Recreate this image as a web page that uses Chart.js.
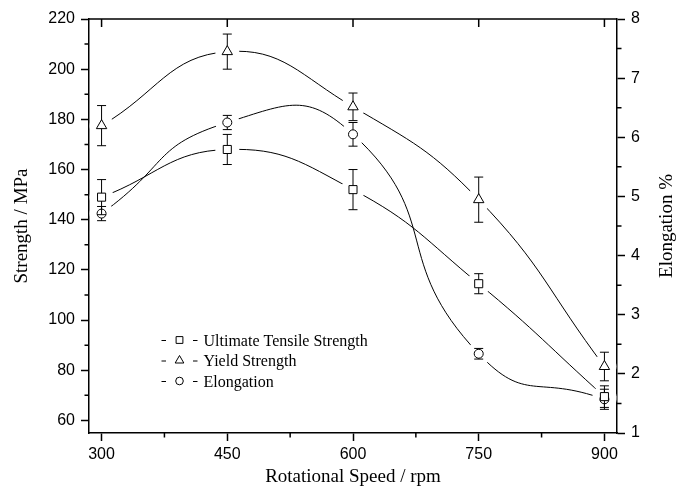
<!DOCTYPE html>
<html><head><meta charset="utf-8">
<script src="https://cdn.jsdelivr.net/npm/chart.js@4.4.1/dist/chart.umd.min.js"></script>
<style>html,body{margin:0;padding:0;background:#fff}canvas{display:block}</style>
</head><body>
<canvas id="c" width="691" height="492"></canvas>
<script>
const speeds = [300, 450, 600, 750, 900];
const utsValues = [149, 168, 152, 114.5, 69.5];
const utsErrors = [7, 6, 8, 4, 4.3];
const yieldValues = [177.5, 207, 185, 148, 81.5];
const yieldErrors = [8, 7, 5.5, 9, 5.7];
const elongValues = [4.71, 6.25, 6.05, 2.34, 1.57];
const elongErrors = [0.12, 0.12, 0.2, 0.09, 0.17];
const xTicks = [300, 450, 600, 750, 900];
const xMinorTicks = [375, 525, 675, 825];
const strengthTicks = [60, 80, 100, 120, 140, 160, 180, 200, 220];
const strengthMinorTicks = [70, 90, 110, 130, 150, 170, 190, 210];
const elongTicks = [1, 2, 3, 4, 5, 6, 7, 8];
const elongMinorTicks = [1.5, 2.5, 3.5, 4.5, 5.5, 6.5, 7.5];
const seriesLabels = ['Ultimate Tensile Strength', 'Yield Strength', 'Elongation'];
const xTitle = 'Rotational Speed / rpm';
const yTitle = 'Strength / MPa';
const y1Title = 'Elongation %';

const SERIF = '"Liberation Serif", "Times New Roman", serif';
Chart.defaults.font.family = '"Liberation Sans", Arial, sans-serif';
Chart.defaults.font.size = 16;
Chart.defaults.color = '#000';

function seriesDatasets(label, values, errors, axis, style, radius, tension) {
  const data = speeds.map((s, i) => ({x: s, y: values[i]}));
  return [
    {label: label, data: data, yAxisID: axis, showLine: true, borderColor: '#000', borderWidth: 1,
     pointRadius: 0, pointHoverRadius: 0, tension: tension, order: 3, fill: false},
    {label: label + ' gap', data: data, yAxisID: axis, showLine: false, pointRadius: 12, pointHoverRadius: 12,
     pointBackgroundColor: '#fff', pointBorderColor: '#fff', pointBorderWidth: 0, order: 2},
    {label: label + ' marker', data: data, yAxisID: axis, showLine: false, pointStyle: style,
     pointRadius: radius, pointHoverRadius: radius, pointBackgroundColor: '#fff', pointBorderColor: '#000',
     pointBorderWidth: 1, order: 1, errorBars: errors}
  ];
}

const datasets = [].concat(
  seriesDatasets(seriesLabels[0], utsValues, utsErrors, 'y', 'rect', 5.7, 0.45),
  seriesDatasets(seriesLabels[1], yieldValues, yieldErrors, 'y', 'triangle', 6, 0.45),
  seriesDatasets(seriesLabels[2], elongValues, elongErrors, 'y1', 'circle', 4.5, 0.55)
);

const errorBarPlugin = {
  id: 'errorBars',
  beforeDatasetDraw(chart, args) {
    const ds = chart.data.datasets[args.index];
    if (!ds.errorBars) return;
    const ys = chart.scales[ds.yAxisID], xs = chart.scales.x, ctx = chart.ctx;
    ctx.save();
    ctx.strokeStyle = '#000'; ctx.lineWidth = 1;
    ds.data.forEach((p, i) => {
      const e = ds.errorBars[i];
      const x = xs.getPixelForValue(p.x);
      const yt = ys.getPixelForValue(p.y + e), yb = ys.getPixelForValue(p.y - e);
      ctx.beginPath();
      ctx.moveTo(x, yt); ctx.lineTo(x, yb);
      ctx.moveTo(x - 4.5, yt); ctx.lineTo(x + 4.5, yt);
      ctx.moveTo(x - 4.5, yb); ctx.lineTo(x + 4.5, yb);
      ctx.stroke();
    });
    ctx.restore();
  }
};

const decorPlugin = {
  id: 'decor',
  afterDraw(chart) {
    const ctx = chart.ctx, a = chart.chartArea;
    const xs = chart.scales.x, ys = chart.scales.y, y1s = chart.scales.y1;
    ctx.save();
    ctx.strokeStyle = '#000';
    ctx.lineWidth = 1.5;
    ctx.beginPath();
    ctx.moveTo(a.left, a.top); ctx.lineTo(a.right, a.top);
    xTicks.forEach(v => { const x = xs.getPixelForValue(v); ctx.moveTo(x, a.top); ctx.lineTo(x, a.top + 8); });
    ctx.stroke();
    ctx.beginPath();
    xMinorTicks.forEach(v => { const x = xs.getPixelForValue(v); ctx.moveTo(x, a.bottom); ctx.lineTo(x, a.bottom + 4.5); });
    strengthMinorTicks.forEach(v => { const y = ys.getPixelForValue(v); ctx.moveTo(a.left, y); ctx.lineTo(a.left - 4.5, y); });
    elongMinorTicks.forEach(v => { const y = y1s.getPixelForValue(v); ctx.moveTo(a.right, y); ctx.lineTo(a.right + 4.5, y); });
    ctx.stroke();
    ctx.fillStyle = '#000';
    ctx.font = '19px ' + SERIF;
    ctx.textAlign = 'center'; ctx.textBaseline = 'middle';
    ctx.fillText(xTitle, (a.left + a.right) / 2, 477);
    ctx.save(); ctx.translate(22, (a.top + a.bottom) / 2); ctx.rotate(-Math.PI / 2);
    ctx.fillText(yTitle, 0, 0); ctx.restore();
    ctx.save(); ctx.translate(667, (a.top + a.bottom) / 2); ctx.rotate(-Math.PI / 2);
    ctx.fillText(y1Title, 0, 0); ctx.restore();
    const styles = ['rect', 'triangle', 'circle'];
    const radii = [4.8, 5, 3.8];
    ctx.font = '16px ' + SERIF;
    ctx.textAlign = 'left'; ctx.textBaseline = 'alphabetic';
    seriesLabels.forEach((lab, i) => {
      const ry = 340 + i * 20.5;
      ctx.lineWidth = 1;
      ctx.beginPath();
      ctx.moveTo(161.5, ry + 0.5); ctx.lineTo(166, ry + 0.5);
      ctx.moveTo(193, ry + 0.5); ctx.lineTo(197.5, ry + 0.5);
      ctx.stroke();
      ctx.fillStyle = '#fff'; ctx.strokeStyle = '#000';
      Chart.helpers.drawPoint(ctx, {pointStyle: styles[i], radius: radii[i], borderWidth: 1, rotation: 0}, 179.5, ry);
      ctx.fillStyle = '#000';
      ctx.fillText(lab, 203.5, ry + 5.5);
    });
    ctx.restore();
  }
};

new Chart(document.getElementById('c'), {
  type: 'line',
  data: {datasets: datasets},
  plugins: [errorBarPlugin, decorPlugin],
  options: {
    responsive: false,
    animation: false,
    events: [],
    layout: {padding: {top: 19, left: 0, right: 0, bottom: 0}},
    plugins: {legend: {display: false}, tooltip: {enabled: false}},
    scales: {
      x: {
        type: 'linear', min: 285, max: 915,
        afterBuildTicks: s => { s.ticks = xTicks.map(v => ({value: v})); },
        afterFit: s => { s.height = 59; },
        ticks: {autoSkip: false, maxRotation: 0, padding: 4, color: '#000', font: {size: 16}},
        grid: {drawOnChartArea: false, tickLength: 8, tickWidth: 1.5, tickColor: '#000'},
        border: {color: '#000', width: 1.5}
      },
      y: {
        type: 'linear', position: 'left', min: 55, max: 220,
        afterBuildTicks: s => { s.ticks = strengthTicks.map(v => ({value: v})); },
        afterFit: s => { s.width = 89; },
        ticks: {autoSkip: false, padding: 6, color: '#000', font: {size: 16}},
        grid: {drawOnChartArea: false, tickLength: 8, tickWidth: 1.5, tickColor: '#000'},
        border: {color: '#000', width: 1.5}
      },
      y1: {
        type: 'linear', position: 'right', min: 1, max: 8,
        afterBuildTicks: s => { s.ticks = elongTicks.map(v => ({value: v})); },
        afterFit: s => { s.width = 74; },
        ticks: {autoSkip: false, padding: 6, color: '#000', font: {size: 16}},
        grid: {drawOnChartArea: false, tickLength: 8, tickWidth: 1.5, tickColor: '#000'},
        border: {color: '#000', width: 1.5}
      }
    }
  }
});
</script>
</body></html>
